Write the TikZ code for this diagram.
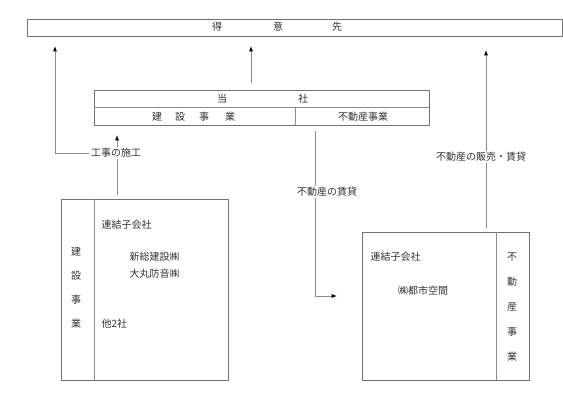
\documentclass[tikz,border=0pt]{standalone}
\usepackage{fontspec}
\setmainfont{Noto Sans CJK JP}
\usetikzlibrary{arrows.meta}
\begin{document}
\begin{tikzpicture}[x=0.75pt,y=-0.75pt,
  box/.style={draw=black!55,line width=0.7pt,inner sep=0pt,rectangle},
  txt/.style={font=\fontsize{7.5}{9}\selectfont,text=black!80,inner sep=1pt},
  conn/.style={draw=black!45,line width=0.7pt},
  arr/.style={conn,-{Latex[length=4pt,width=3pt,black]}}]
\useasboundingbox (0,0) rectangle (563,409);
% top box
\node[box,minimum width=535*0.75pt,minimum height=17*0.75pt] (top) at (294.5,27.5) {};
\node[txt] (t1) at (217,27) {得};
\node[txt] (t2) at (278,27) {意};
\node[txt] (t3) at (337,27) {先};
% company box
\node[box,minimum width=335*0.75pt,minimum height=35*0.75pt] (co) at (261.5,107.5) {};
\draw[conn] (94,107) -- (429,107);
\draw[conn] (295,107) -- (295,125);
\node[txt] (c1) at (222,99) {当};
\node[txt] (c2) at (303,99) {社};
\node[txt] (k1) at (157,116.5) {建};
\node[txt] (k2) at (180,116.5) {設};
\node[txt] (k3) at (204,116.5) {事};
\node[txt] (k4) at (230,116.5) {業};
\node[txt] (fd) at (363,116.5) {不動産事業};
% left box
\node[box,minimum width=167*0.75pt,minimum height=181*0.75pt] (lb) at (144.5,289.5) {};
\draw[conn] (94,199) -- (94,380);
\node[txt] (l1) at (76,252) {建};
\node[txt] (l2) at (76,276) {設};
\node[txt] (l3) at (76,300) {事};
\node[txt] (l4) at (76,324) {業};
\node[txt,anchor=west] (lr) at (100,225) {連結子会社};
\node[txt,anchor=west] (ls) at (128,257) {新総建設㈱};
\node[txt,anchor=west] (ld) at (128,274) {大丸防音㈱};
\node[txt,anchor=west] (lo) at (100,324) {他2社};
% right box
\node[box,minimum width=167*0.75pt,minimum height=148*0.75pt] (rb) at (445.5,306) {};
\draw[conn] (496,232) -- (496,380);
\node[txt,anchor=west] (rr) at (369,257) {連結子会社};
\node[txt] (rt) at (423,291) {㈱都市空間};
\node[txt] (r1) at (512,257) {不};
\node[txt] (r2) at (512,282) {動};
\node[txt] (r3) at (512,307) {産};
\node[txt] (r4) at (512,332) {事};
\node[txt] (r5) at (512,357) {業};
% labels on connectors
\node[txt] (kj) at (116,153) {工事の施工};
\node[txt] (fc) at (327,192) {不動産の賃貸};
\node[txt] (fh) at (481,157) {不動産の販売・賃貸};
% coordinates
\coordinate (m0) at (251,83);
\coordinate (m1) at (251,46);
\coordinate (a0) at (55,153);
\coordinate (a1) at (55,46);
\coordinate (b0) at (117,195);
\coordinate (b1) at (117,135);
\coordinate (c0) at (315,131);
\coordinate (c1p) at (315,296);
\coordinate (c2p) at (337,296);
\coordinate (d0) at (486,228);
\coordinate (d1) at (486,50);
% connectors
\draw[arr] (m0) -- (m1);
\draw[arr] (kj.west) -- (a0) -- (a1);
\draw[conn] (b0) -- (kj.south -| b0);
\draw[arr] (kj.north -| b0) -- (b1);
\draw[conn] (c0) -- (fc.north -| c0);
\draw[arr] (fc.south -| c0) -- (c1p) -- (c2p);
\draw[conn] (d0) -- (fh.south -| d0);
\draw[arr] (fh.north -| d0) -- (d1);
\end{tikzpicture}
\end{document}
